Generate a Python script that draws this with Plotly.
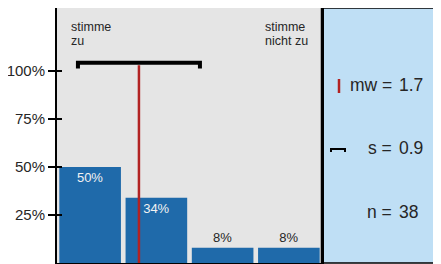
import numpy as np
import plotly.graph_objects as go

# ---- data ----
categories = [1, 2, 3, 4]
percent = [50, 34, 8, 8]
counts = [19, 13, 3, 3]
label_texts = ["50%", "34%", "8%", "8%"]
tick_vals = [25, 50, 75, 100]
tick_text = ["25%", "50%", "75%", "100%"]
left_caption = ["stimme", "zu"]
right_caption = ["stimme", "nicht zu"]
n_total = sum(counts)
vals = np.repeat(categories, counts)
mw = float(np.mean(vals))
sd = float(np.std(vals, ddof=1))

OFF = 8  # default page body margin
W, H = 441 - OFF, 264 - OFF
ML, MT, MB = 57 - OFF, 0, 1
PW = W - ML
PH = H - MT - MB
split = 265 / PW  # main plot domain end


def px(x):
    return (x - OFF - ML) / PW


def py(y):
    return 1 - (y - OFF - MT) / PH


FONT = "Liberation Sans, Arial, sans-serif"
DARK = "#262626"
BAR = "#1f6aaa"
RED = "#b22222"
PANEL = "#bfdff5"

fig = go.Figure()
fig.add_trace(go.Bar(
    x=categories, y=percent, text=label_texts,
    textposition=["inside", "inside", "outside", "outside"],
    insidetextanchor="end",
    insidetextfont=dict(color="#f2f2f2", size=13, family=FONT),
    outsidetextfont=dict(color=DARK, size=13, family=FONT),
    marker=dict(color=BAR, line=dict(width=0)),
    cliponaxis=False, hoverinfo="skip", showlegend=False,
))
# invisible trace to carry inside ticks
fig.add_trace(go.Scatter(x=[None], y=[None], yaxis="y2", showlegend=False))

yr = [0, 100 * PH / 192]

fig.update_layout(
    width=W, height=H,
    margin=dict(l=ML, r=0, t=MT, b=MB, pad=0, autoexpand=False),
    paper_bgcolor="white", plot_bgcolor="#e5e5e5",
    bargap=0.07,
    font=dict(family=FONT, color=DARK),
    xaxis=dict(domain=[0, split], range=[0.5, 4.5], showticklabels=False,
               ticks="", showgrid=False, zeroline=False,
               showline=True, linecolor="black", linewidth=2, mirror=True),
    yaxis=dict(range=yr, tickvals=tick_vals, ticktext=tick_text,
               ticks="outside", ticklen=7, tickwidth=2, tickcolor="black",
               tickfont=dict(size=15, color=DARK, family=FONT),
               showgrid=False, zeroline=False,
               showline=True, linecolor="black", linewidth=2, mirror=True),
    yaxis2=dict(range=yr, overlaying="y", side="left", tickvals=tick_vals,
                showticklabels=False, ticks="inside", ticklen=5, tickwidth=2,
                tickcolor="black", showgrid=False, zeroline=False, showline=False),
)

# right panel
fig.add_shape(type="rect", xref="paper", yref="paper", x0=split, x1=1.02, y0=0, y1=1,
              fillcolor=PANEL, line=dict(color="black", width=1.5), layer="below")
fig.add_shape(type="line", xref="paper", yref="paper", x0=split, x1=split, y0=0, y1=1,
              line=dict(color="black", width=2.5))

# mean line
fig.add_shape(type="line", xref="x", yref="y", x0=mw, x1=mw, y0=0, y1=103,
              line=dict(color=RED, width=2.5))
# sd bracket
lo, hi = mw - sd, mw + sd
fig.add_shape(type="path", xref="x", yref="y",
              path=f"M {lo},101.3 L {lo},104.3 L {hi},104.3 L {hi},101.3",
              line=dict(color="black", width=4))

# captions
for i, t in enumerate(left_caption):
    fig.add_annotation(x=px(69), y=py(27 + 14 * i), xref="paper", yref="paper",
                       text=t, showarrow=False, xanchor="left", yanchor="middle",
                       font=dict(size=12.5, color=DARK, family=FONT))
for i, t in enumerate(right_caption):
    fig.add_annotation(x=px(263), y=py(27 + 14 * i), xref="paper", yref="paper",
                       text=t, showarrow=False, xanchor="left", yanchor="middle",
                       font=dict(size=12.5, color=DARK, family=FONT))

# panel stats
stats = [("mw", f"{mw:.1f}", 85), ("s", f"{sd:.1f}", 148), ("n", f"{n_total}", 212)]
for lab, val, yy in stats:
    fig.add_annotation(x=px(394), y=py(yy), xref="paper", yref="paper",
                       text=f"{lab} =", showarrow=False, xanchor="right", yanchor="middle",
                       font=dict(size=17.5, color=DARK, family=FONT))
    fig.add_annotation(x=px(397), y=py(yy), xref="paper", yref="paper",
                       text=val, showarrow=False, xanchor="left", yanchor="middle",
                       font=dict(size=17.5, color=DARK, family=FONT))

# legend symbols in panel
fig.add_shape(type="line", xref="paper", yref="paper", x0=px(339), x1=px(339),
              y0=py(79), y1=py(93), line=dict(color=RED, width=2.5))
fig.add_shape(type="path", xref="paper", yref="paper",
              path=f"M {px(331)},{py(152)} L {px(331)},{py(149)} L {px(345)},{py(149)} L {px(345)},{py(152)}",
              line=dict(color="black", width=2))

fig.write_html("out.html")
